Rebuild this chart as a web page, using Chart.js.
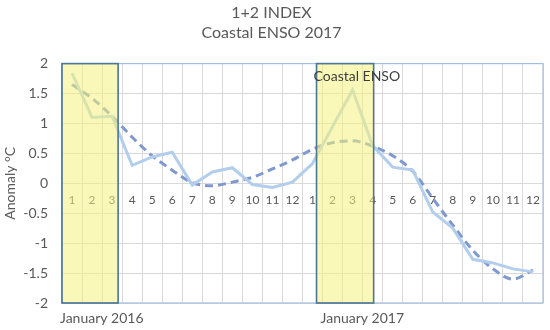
<!DOCTYPE html>
<html>
<head>
<meta charset="utf-8">
<script src="https://cdn.jsdelivr.net/npm/chart.js@4"></script>
<style>
  html, body { margin: 0; padding: 0; background: #ffffff; }
  #wrap { width: 550px; height: 330px; }
</style>
</head>
<body>
<div id="wrap"><canvas id="c" width="550" height="330"></canvas></div>
<script>
// ---- data ----
const months = ['1','2','3','4','5','6','7','8','9','10','11','12','1','2','3','4','5','6','7','8','9','10','11','12'];
const observed = [1.84, 1.10, 1.12, 0.30, 0.44, 0.52, -0.03, 0.19, 0.26, -0.02, -0.07, 0.02,
                  0.33, 0.95, 1.56, 0.63, 0.27, 0.22, -0.48, -0.75, -1.27, -1.33, -1.43, -1.48];
const trend = [1.65, 1.42, 1.12, 0.77, 0.46, 0.22, 0.01, -0.04, 0.02, 0.10, 0.24, 0.39,
               0.57, 0.68, 0.71, 0.62, 0.46, 0.20, -0.25, -0.70, -1.12, -1.43, -1.60, -1.45];
const yTicks = [-2, -1.5, -1, -0.5, 0, 0.5, 1, 1.5, 2];
const titleLines = ['1+2 INDEX', 'Coastal ENSO 2017'];
const yTitle = 'Anomaly °C';
// highlighted periods (category-index coordinates)
const boxStarts = [-0.5, 12.2];
const boxEnds = [2.3, 15.05];
const periodLabels = ['January 2016', 'January 2017'];
const periodLabelAt = [-0.6, 12.4];
const noteText = 'Coastal ENSO';
const noteAt = [12.05, 1.78];

const FONT = 'Lato, "Open Sans", "DejaVu Sans", sans-serif';
const TXT = '#595959';

const overlayPlugin = {
  id: 'overlay',
  afterDatasetsDraw(chart) {
    const {ctx, chartArea: a, scales: {x, y}} = chart;
    ctx.save();
    // plot area border
    ctx.strokeStyle = '#A3BEDF';
    ctx.lineWidth = 1.2;
    ctx.strokeRect(a.left, a.top, a.right - a.left, a.bottom - a.top);
    // highlighted boxes
    for (let i = 0; i < boxStarts.length; i++) {
      const x1 = x.getPixelForValue(boxStarts[i]);
      const x2 = x.getPixelForValue(boxEnds[i]);
      ctx.fillStyle = 'rgba(246,242,126,0.55)';
      ctx.fillRect(x1, a.top, x2 - x1, a.bottom - a.top);
      ctx.strokeStyle = '#4C7596';
      ctx.lineWidth = 1.6;
      ctx.strokeRect(x1, a.top, x2 - x1, a.bottom - a.top);
    }
    // note text
    ctx.fillStyle = '#3F3F3F';
    ctx.font = '14px ' + FONT;
    ctx.textAlign = 'left';
    ctx.textBaseline = 'middle';
    ctx.fillText(noteText, x.getPixelForValue(noteAt[0]), y.getPixelForValue(noteAt[1]));
    // period labels below the plot
    ctx.fillStyle = TXT;
    ctx.font = '14px ' + FONT;
    for (let i = 0; i < periodLabels.length; i++) {
      ctx.fillText(periodLabels[i], x.getPixelForValue(periodLabelAt[i]), a.bottom + 15);
    }
    ctx.restore();
  }
};

new Chart(document.getElementById('c'), {
  type: 'line',
  data: {
    labels: months,
    datasets: [
      {
        label: 'Observed',
        data: observed,
        borderColor: '#B2CEEC',
        borderWidth: 3,
        pointRadius: 0,
        tension: 0,
        fill: false
      },
      {
        label: 'Trend',
        data: trend,
        borderColor: '#7F98CF',
        borderWidth: 3,
        borderDash: [8, 5],
        pointRadius: 0,
        cubicInterpolationMode: 'monotone',
        fill: false
      }
    ]
  },
  options: {
    responsive: false,
    animation: false,
    devicePixelRatio: 1,
    layout: { padding: { left: 0, right: 7, top: 0, bottom: 27 } },
    plugins: {
      legend: { display: false },
      tooltip: { enabled: false },
      title: {
        display: true,
        text: titleLines,
        color: TXT,
        font: { family: FONT, size: 16, weight: 'normal', lineHeight: 1.3 },
        padding: { top: 2, bottom: 20 }
      }
    },
    scales: {
      x: {
        type: 'category',
        position: { y: 0 },
        offset: true,
        grid: { offset: true, color: '#D9D9D9', lineWidth: 1, drawTicks: true, tickLength: 8, tickColor: '#D9D9D9' },
        border: { display: false },
        ticks: { color: TXT, font: { family: FONT, size: 12 }, autoSkip: false, maxRotation: 0, padding: 2 }
      },
      y: {
        min: -2,
        max: 2,
        afterBuildTicks(scale) { scale.ticks = yTicks.map(v => ({ value: v })); },
        afterFit(scale) { scale.width = 62; },
        grid: { color: '#D9D9D9', lineWidth: 1, drawTicks: false },
        border: { display: false },
        ticks: { color: TXT, font: { family: FONT, size: 14 }, padding: 14, callback: (v) => String(v) },
        title: { display: true, text: yTitle, color: TXT, font: { family: FONT, size: 14 }, padding: { top: 2, bottom: 0 } }
      }
    }
  },
  plugins: [overlayPlugin]
});
</script>
</body>
</html>
